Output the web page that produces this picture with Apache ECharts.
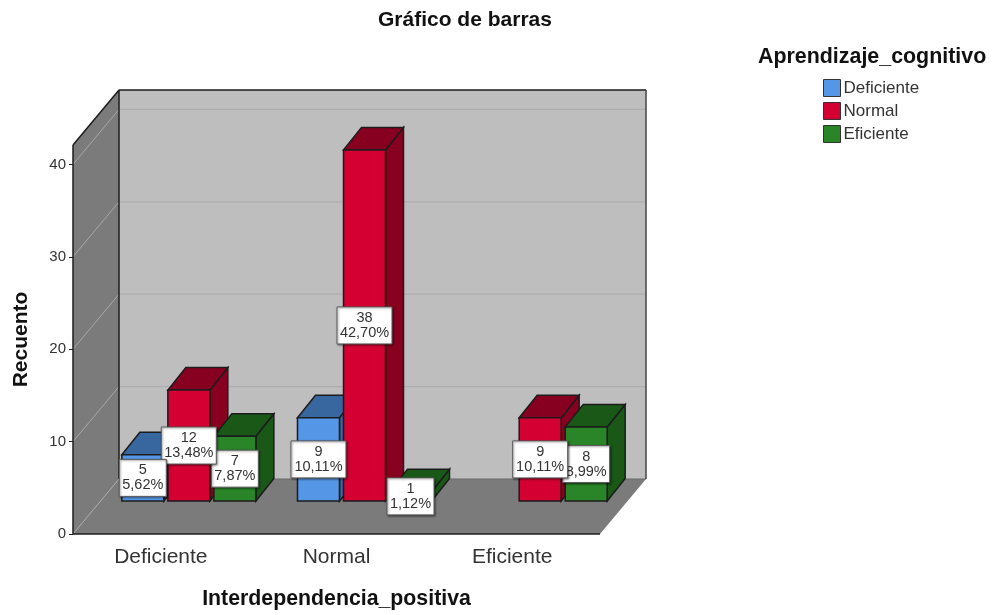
<!DOCTYPE html>
<html>
<head>
<meta charset="utf-8">
<style>
  html, body { margin: 0; padding: 0; background: #fff; }
  #main { width: 992px; height: 615px; }
</style>
<script src="https://cdn.jsdelivr.net/npm/echarts@6/dist/echarts.min.js"></script>
</head>
<body>
<div id="main"></div>
<script>
var categories = ['Deficiente', 'Normal', 'Eficiente'];
var levels = ['Deficiente', 'Normal', 'Eficiente'];
var deficienteValues = [5, 9, null];
var normalValues = [12, 38, 9];
var eficienteValues = [7, 1, 8];
var deficientePct = ['5,62%', '10,11%', ''];
var normalPct = ['13,48%', '42,70%', '10,11%'];
var eficientePct = ['7,87%', '1,12%', '8,99%'];
var yTicks = [0, 10, 20, 30, 40];

var values = [deficienteValues, normalValues, eficienteValues];
var pcts = [deficientePct, normalPct, eficientePct];
var frontColors = ['#5596e6', '#d50032', '#298527'];
var darkColors = ['#38669f', '#87001f', '#1a5818'];

var font = '"Liberation Sans", Arial, sans-serif';
var outline = '#1c1c1c';

// profundidad de la caja (paredes) y de cada barra, en pixeles
var wallDx = 46, wallDy = -55;
var barDx = 18, barDy = -22.5;
var shiftX = 28, shiftY = -33;

var chart = echarts.init(document.getElementById('main'), null, { renderer: 'canvas' });

function poly(points, fill, stroke, lineWidth) {
  return {
    type: 'polygon',
    shape: { points: points },
    style: { fill: fill, stroke: stroke, lineWidth: lineWidth === undefined ? 1.5 : lineWidth }
  };
}

function line(x1, y1, x2, y2, color, lineWidth) {
  return {
    type: 'line',
    shape: { x1: x1, y1: y1, x2: x2, y2: y2 },
    style: { stroke: color, lineWidth: lineWidth, fill: null }
  };
}

function renderWalls(params, api) {
  var c = params.coordSys;
  var l = c.x, r = c.x + c.width, t = c.y, b = c.y + c.height;
  var kids = [
    poly([[l + wallDx, t + wallDy], [r + wallDx, t + wallDy], [r + wallDx, b + wallDy], [l + wallDx, b + wallDy]], '#bebebe', null, 0),
    poly([[l, t], [l + wallDx, t + wallDy], [l + wallDx, b + wallDy], [l, b]], '#7b7b7b', null, 0),
    poly([[l, b], [l + wallDx, b + wallDy], [r + wallDx, b + wallDy], [r, b]], '#7b7b7b', null, 0)
  ];
  yTicks.forEach(function (v) {
    var y = api.coord([0, v])[1];
    kids.push(line(l, y, l + wallDx, y + wallDy, '#a8a8a8', 1));
    kids.push(line(l + wallDx, y + wallDy, r + wallDx, y + wallDy, v === 0 ? '#6a6a6a' : '#adadad', 1.2));
  });
  kids.push(line(l, t, l + wallDx, t + wallDy, outline, 1.5));
  kids.push(line(l + wallDx, t + wallDy, r + wallDx, t + wallDy, outline, 1.5));
  kids.push(line(r + wallDx, t + wallDy, r + wallDx, b + wallDy, '#444', 1.5));
  kids.push(line(l + wallDx, t + wallDy, l + wallDx, b + wallDy, outline, 1.5));
  kids.push(line(l, t, l, b, outline, 1.5));
  kids.push(line(l, b, r, b, outline, 1.5));
  return { type: 'group', children: kids };
}

function renderBar(s) {
  return function (params, api) {
    var band = api.size([1, 0])[0];
    var w = band * 0.239, slot = band * 0.262;
    var top = api.coord([api.value(0), api.value(1)]);
    var base = api.coord([api.value(0), 0]);
    var x = top[0] + (s - 1) * slot + shiftX - w / 2;
    var y = top[1] + shiftY, yb = base[1] + shiftY;
    return {
      type: 'group',
      children: [
        poly([[x + w, y], [x + w + barDx, y + barDy], [x + w + barDx, yb + barDy], [x + w, yb]], darkColors[s], outline),
        poly([[x, y], [x + barDx, y + barDy], [x + w + barDx, y + barDy], [x + w, y]], darkColors[s], outline),
        poly([[x, y], [x + w, y], [x + w, yb], [x, yb]], frontColors[s], outline)
      ]
    };
  };
}

function renderLabel(s) {
  return function (params, api) {
    var band = api.size([1, 0])[0];
    var cat = api.value(0), val = api.value(1);
    var top = api.coord([cat, val]);
    var base = api.coord([cat, 0]);
    var cx = top[0] + (s - 1) * band * 0.262 + shiftX;
    var cy = (top[1] + base[1]) / 2 + shiftY;
    var pct = pcts[s][cat];
    var w = 8 * pct.length + 7, h = 37;
    return {
      type: 'group',
      children: [
        {
          type: 'rect',
          shape: { x: cx - w / 2, y: cy - h / 2, width: w, height: h },
          style: { fill: '#fff', stroke: '#5a5a5a', lineWidth: 1, shadowBlur: 2, shadowColor: 'rgba(0,0,0,0.45)', shadowOffsetX: 1, shadowOffsetY: 1 }
        },
        {
          type: 'text',
          style: {
            text: val + '\n' + pct,
            x: cx, y: cy,
            align: 'center', verticalAlign: 'middle',
            fontFamily: font, fontSize: 14.5, lineHeight: 15,
            fill: '#333'
          }
        }
      ]
    };
  };
}

function points(s) {
  var out = [];
  values[s].forEach(function (v, i) {
    if (v !== null) out.push([i, v]);
  });
  return out;
}

var series = [{
  name: 'paredes',
  type: 'custom',
  silent: true,
  z: 1,
  renderItem: renderWalls,
  data: [[0, 0]]
}];

levels.forEach(function (name, s) {
  series.push({
    name: name,
    type: 'custom',
    silent: true,
    z: 2,
    itemStyle: { color: frontColors[s] },
    encode: { x: 0, y: 1 },
    renderItem: renderBar(s),
    data: points(s)
  });
});

// las etiquetas van encima; la primera serie queda arriba de todo
levels.forEach(function (name, s) {
  series.push({
    name: name + '_etiqueta',
    type: 'custom',
    silent: true,
    z: 5 - s,
    encode: { x: 0, y: 1 },
    renderItem: renderLabel(s),
    data: points(s)
  });
});

chart.setOption({
  animation: false,
  backgroundColor: '#fff',
  textStyle: { fontFamily: font },
  title: [
    {
      text: 'Gráfico de barras',
      left: 373, top: 5,
      textStyle: { fontFamily: font, fontSize: 21, fontWeight: 'bold', color: '#111' }
    },
    {
      text: 'Aprendizaje_cognitivo',
      left: 753, top: 42,
      textStyle: { fontFamily: font, fontSize: 21.4, fontWeight: 'bold', color: '#111' }
    }
  ],
  legend: {
    data: levels,
    orient: 'vertical',
    left: 818, top: 74,
    icon: 'rect',
    itemWidth: 17, itemHeight: 17,
    itemGap: 5,
    selectedMode: false,
    itemStyle: { borderColor: '#333', borderWidth: 1 },
    textStyle: { fontFamily: font, fontSize: 17, lineHeight: 11, color: '#333', padding: [6, 0, 0, -2] }
  },
  grid: { left: 73, top: 145, width: 527, height: 389 },
  xAxis: {
    type: 'category',
    data: categories,
    name: 'Interdependencia_positiva',
    nameLocation: 'center',
    nameGap: 55,
    nameTextStyle: { fontFamily: font, fontSize: 21.3, fontWeight: 'bold', color: '#111' },
    axisLine: { show: false },
    axisTick: { show: false },
    axisLabel: { fontFamily: font, fontSize: 21, color: '#333', margin: 13 }
  },
  yAxis: {
    type: 'value',
    min: 0,
    max: 42.1,
    interval: 10,
    name: 'Recuento',
    nameLocation: 'center',
    nameGap: 41,
    nameTextStyle: { fontFamily: font, fontSize: 21, fontWeight: 'bold', color: '#111' },
    axisLine: { show: false },
    splitLine: { show: false },
    axisTick: { show: true, length: 4, lineStyle: { color: '#222' }, customValues: yTicks },
    axisLabel: { fontFamily: font, fontSize: 15, color: '#333', margin: 7, padding: [3, 0, 0, 0], customValues: yTicks }
  },
  series: series
});
</script>
</body>
</html>
